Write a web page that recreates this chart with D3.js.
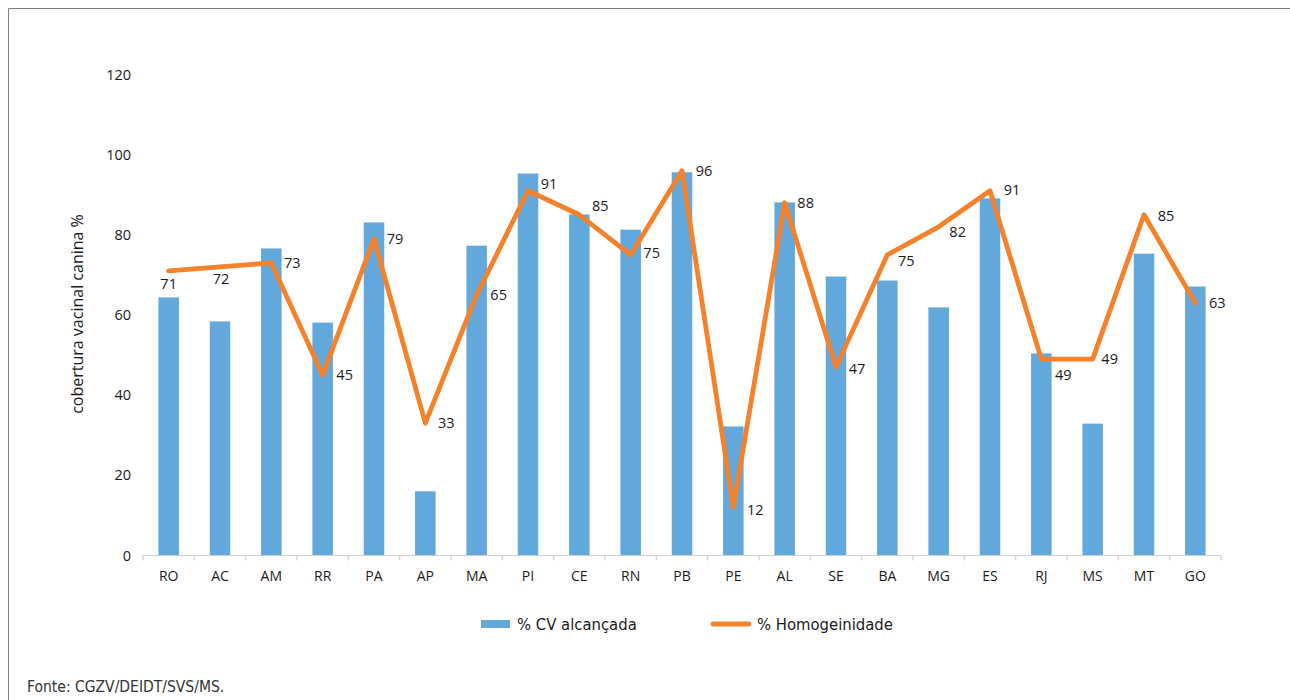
<!DOCTYPE html>
<html>
<head>
<meta charset="utf-8">
<script src="https://cdn.jsdelivr.net/npm/d3@7"></script>
<style>
  html, body { margin: 0; padding: 0; background: #fff; }
  svg { display: block; }
</style>
</head>
<body>
<svg id="chart" width="1290" height="700"></svg>
<script>
// Brazilian states (UF)
const states = ["RO","AC","AM","RR","PA","AP","MA","PI","CE","RN","PB","PE","AL","SE","BA","MG","ES","RJ","MS","MT","GO"];
// % CV alcançada (bars)
const coverage = [64.4, 58.4, 76.6, 58.1, 83.1, 16.0, 77.3, 95.3, 85.1, 81.3, 95.6, 32.2, 88.1, 69.6, 68.6, 61.9, 89.1, 50.4, 32.9, 75.3, 67.1];
// % Homogeneidade (line, labelled)
const homogeneity = [71, 72, 73, 45, 79, 33, 65, 91, 85, 75, 96, 12, 88, 47, 75, 82, 91, 49, 49, 85, 63];
// Y-axis ticks
const yTicks = [0, 20, 40, 60, 80, 100, 120];
// Legend entries
const legendLabels = ["% CV alcançada", "% Homogeinidade"];

// Placement of each line label relative to its point: [dx, dy]
const labelNudge = [
  [0, 13], [1, 12], [21, 0], [22, 0], [21, 0], [21, 0], [22, 0], [21, -7],
  [21, -9], [21, -2], [22, 0], [22, 2], [21, 0], [21, 2], [19, 6], [19, 5],
  [22, -1], [22, 16], [17, 0], [22, 1], [22, 0]
];

const svg = d3.select("#chart");
const font = "'Open Sans', 'Noto Sans', sans-serif";
const narrow = "'Liberation Sans Narrow', 'DejaVu Sans Condensed', 'Open Sans', sans-serif";
const blue = "#62a8da";
const orange = "#f5812b";

// outer frame (left and top rules)
svg.append("path")
  .attr("d", "M8.5,700 V8.5 H1290")
  .attr("fill", "none")
  .attr("stroke", "#7f7f7f")
  .attr("stroke-width", 1);

const plot = { left: 143, right: 1221, top: 74.5, bottom: 555.5 };

const x = d3.scaleBand()
  .domain(states)
  .range([plot.left, plot.right])
  .paddingInner(0.6)
  .paddingOuter(0.3);

const y = d3.scaleLinear()
  .domain([0, 120])
  .range([plot.bottom, plot.top]);

// bars
svg.append("g")
  .selectAll("rect")
  .data(states)
  .join("rect")
  .attr("x", (d) => x(d))
  .attr("y", (d, i) => y(coverage[i]))
  .attr("width", x.bandwidth())
  .attr("height", (d, i) => y(0) - y(coverage[i]))
  .attr("fill", blue);

// x axis with ticks between categories
const xAxisG = svg.append("g").attr("transform", `translate(0,${plot.bottom})`);
xAxisG.append("line")
  .attr("x1", plot.left).attr("x2", plot.right)
  .attr("stroke", "#d0d0d0").attr("stroke-width", 1.2);
const boundaries = d3.range(states.length + 1).map((i) => plot.left + i * (plot.right - plot.left) / states.length);
xAxisG.selectAll("line.tick")
  .data(boundaries)
  .join("line")
  .attr("class", "tick")
  .attr("x1", (d) => d).attr("x2", (d) => d)
  .attr("y1", 0).attr("y2", 5)
  .attr("stroke", "#d0d0d0").attr("stroke-width", 1.2);
xAxisG.selectAll("text")
  .data(states)
  .join("text")
  .attr("x", (d) => x(d) + x.bandwidth() / 2)
  .attr("y", 25)
  .attr("text-anchor", "middle")
  .attr("font-family", font)
  .attr("font-size", 14)
  .attr("fill", "#1a1a1a")
  .text((d) => d);

// y axis labels (no axis line)
const yAxis = d3.axisLeft(y).tickValues(yTicks).tickSize(0).tickPadding(0);
const yAxisG = svg.append("g")
  .attr("transform", `translate(131,0)`)
  .call(yAxis);
yAxisG.select(".domain").remove();
yAxisG.selectAll("text")
  .attr("font-family", font)
  .attr("font-size", 14.5)
  .attr("fill", "#1a1a1a");

// y axis title
svg.append("text")
  .attr("transform", `translate(83,${(plot.top + plot.bottom) / 2 - 1}) rotate(-90)`)
  .attr("text-anchor", "middle")
  .attr("font-family", font)
  .attr("font-size", 16)
  .attr("fill", "#1a1a1a")
  .text("cobertura vacinal canina %");

// homogeneity line
const line = d3.line()
  .x((d, i) => x(states[i]) + x.bandwidth() / 2)
  .y((d) => y(d));
svg.append("path")
  .datum(homogeneity)
  .attr("d", line)
  .attr("fill", "none")
  .attr("stroke", orange)
  .attr("stroke-width", 4.8)
  .attr("stroke-linejoin", "round")
  .attr("stroke-linecap", "round");

// value labels
svg.append("g")
  .selectAll("text")
  .data(homogeneity)
  .join("text")
  .attr("x", (d, i) => x(states[i]) + x.bandwidth() / 2 + labelNudge[i][0])
  .attr("y", (d, i) => y(d) + labelNudge[i][1])
  .attr("dy", "0.36em")
  .attr("text-anchor", "middle")
  .attr("font-family", font)
  .attr("font-size", 14.5)
  .attr("fill", "#1a1a1a")
  .text((d) => d);

// legend
const legend = svg.append("g").attr("font-family", narrow).attr("font-size", 16.5).attr("fill", "#1a1a1a");
legend.append("rect")
  .attr("x", 481).attr("y", 620).attr("width", 29).attr("height", 8)
  .attr("fill", blue);
legend.append("text").attr("x", 517).attr("y", 630).text(legendLabels[0]);
legend.append("line")
  .attr("x1", 713).attr("x2", 749).attr("y1", 624).attr("y2", 624)
  .attr("stroke", orange).attr("stroke-width", 4.8).attr("stroke-linecap", "round");
legend.append("text").attr("x", 757).attr("y", 630).text(legendLabels[1]);

// source note
svg.append("text")
  .attr("x", 27).attr("y", 692)
  .attr("font-family", narrow)
  .attr("font-size", 15.5)
  .attr("fill", "#333")
  .text("Fonte: CGZV/DEIDT/SVS/MS.");
</script>
</body>
</html>
